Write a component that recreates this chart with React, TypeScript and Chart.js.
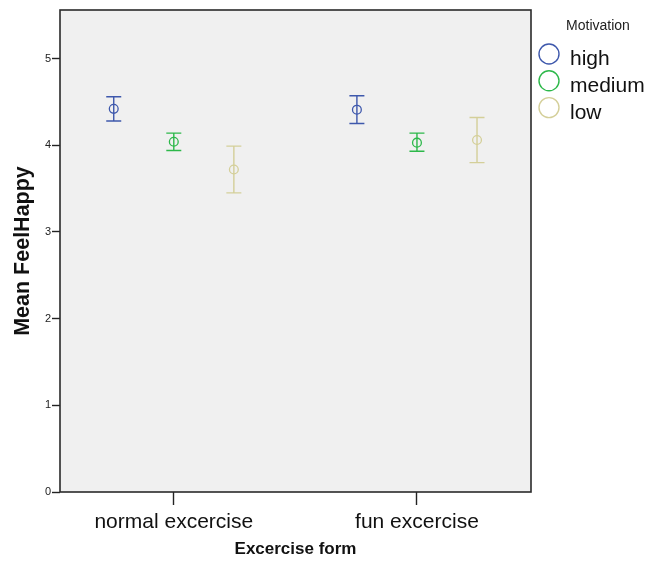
import React, { useEffect, useRef } from 'react';
import { Chart, registerables } from 'chart.js';

Chart.register(...registerables);

// ---- data ----
const categories = ['normal excercise', 'fun excercise'];
const seriesNames = ['high', 'medium', 'low'];

const highMean = [4.42, 4.41];
const highLower = [4.28, 4.25];
const highUpper = [4.56, 4.57];

const mediumMean = [4.04, 4.03];
const mediumLower = [3.94, 3.93];
const mediumUpper = [4.14, 4.14];

const lowMean = [3.72, 4.06];
const lowLower = [3.45, 3.8];
const lowUpper = [3.99, 4.32];

const yTickValues = [0, 1, 2, 3, 4, 5];
const yAxisTitle = 'Mean FeelHappy';
const xAxisTitle = 'Excercise form';
const legendTitle = 'Motivation';

// ---- styles ----
const FONT = '"Liberation Sans", Arial, Helvetica, sans-serif';
const colors = ['#3E58AC', '#2DB84A', '#D4CF99'];
const offsets = [-0.247, 0, 0.247];

const means = [highMean, mediumMean, lowMean];
const lowers = [highLower, mediumLower, lowLower];
const uppers = [highUpper, mediumUpper, lowUpper];

const spssPlugin = {
  id: 'spss',
  beforeDraw(chart: any) {
    const { ctx, chartArea: a } = chart;
    ctx.save();
    ctx.fillStyle = '#F0F0F0';
    ctx.fillRect(a.left, a.top, a.right - a.left, a.bottom - a.top);
    ctx.restore();
  },
  afterDatasetsDraw(chart: any) {
    const { ctx } = chart;
    const xs = chart.scales.x;
    const ys = chart.scales.y;
    ctx.save();
    chart.data.datasets.forEach((ds: any) => {
      ctx.strokeStyle = ds.borderColor;
      ctx.lineWidth = 1.4;
      ds.data.forEach((p: any) => {
        const px = xs.getPixelForValue(p.x);
        const pLo = ys.getPixelForValue(p.lo);
        const pHi = ys.getPixelForValue(p.hi);
        ctx.beginPath();
        ctx.moveTo(px, pHi);
        ctx.lineTo(px, pLo);
        ctx.moveTo(px - 7.5, pHi);
        ctx.lineTo(px + 7.5, pHi);
        ctx.moveTo(px - 7.5, pLo);
        ctx.lineTo(px + 7.5, pLo);
        ctx.stroke();
      });
    });
    ctx.restore();
  },
  afterDraw(chart: any) {
    const { ctx, chartArea: a } = chart;
    ctx.save();
    ctx.strokeStyle = '#2a2a2a';
    ctx.lineWidth = 1.6;
    ctx.strokeRect(a.left, a.top, a.right - a.left, a.bottom - a.top);

    // legend
    const lx = a.right + 18;
    ctx.fillStyle = '#222';
    ctx.font = `14px ${FONT}`;
    ctx.textAlign = 'center';
    ctx.textBaseline = 'middle';
    ctx.fillText(legendTitle, lx + 49, 26);
    chart.data.datasets.forEach((ds: any, i: number) => {
      const cy = 54 + i * 26.8;
      ctx.beginPath();
      ctx.strokeStyle = ds.borderColor;
      ctx.lineWidth = 1.4;
      ctx.arc(lx, cy, 10, 0, Math.PI * 2);
      ctx.stroke();
      ctx.fillStyle = '#111';
      ctx.font = `21px ${FONT}`;
      ctx.textAlign = 'left';
      ctx.textBaseline = 'alphabetic';
      ctx.fillText(ds.label, lx + 21, cy + 11);
    });
    ctx.restore();
  },
};

export default function App() {
  const ref = useRef<HTMLCanvasElement>(null);

  useEffect(() => {
    if (!ref.current) return;
    const datasets = seriesNames.map((name, s) => ({
      label: name,
      data: categories.map((_, i) => ({
        x: i + offsets[s],
        y: means[s][i],
        lo: lowers[s][i],
        hi: uppers[s][i],
      })),
      borderColor: colors[s],
      backgroundColor: 'rgba(240,240,240,1)',
      pointStyle: 'circle',
      pointRadius: 4.4,
      pointBorderWidth: 1.3,
      showLine: false,
    }));

    const chart = new Chart(ref.current, {
      type: 'scatter',
      data: { datasets } as any,
      plugins: [spssPlugin],
      options: {
        responsive: false,
        animation: false,
        devicePixelRatio: 1,
        layout: { padding: { top: 10, right: 125, left: 0, bottom: 0 } },
        plugins: { legend: { display: false }, tooltip: { enabled: false } },
        scales: {
          x: {
            type: 'linear',
            min: -0.468,
            max: 1.469,
            afterBuildTicks: (scale: any) => {
              scale.ticks = categories.map((_, i) => ({ value: i }));
            },
            afterFit: (scale: any) => {
              scale.height = 69;
            },
            border: { display: false },
            grid: {
              drawOnChartArea: false,
              drawTicks: true,
              tickLength: 13,
              tickColor: '#222',
              tickWidth: 1.4,
            },
            ticks: {
              padding: 4.5,
              color: '#111',
              font: { family: FONT, size: 21 },
              maxRotation: 0,
              autoSkip: false,
              callback: (v: any) => categories[Math.round(Number(v))] ?? '',
            },
            title: {
              display: true,
              text: xAxisTitle,
              color: '#111',
              font: { family: FONT, size: 17, weight: 'bold' },
              padding: { top: 0, bottom: 1 },
            },
          },
          y: {
            type: 'linear',
            min: 0,
            max: 5.56,
            afterBuildTicks: (scale: any) => {
              scale.ticks = yTickValues.map((v) => ({ value: v }));
            },
            afterFit: (scale: any) => {
              scale.width = 60;
            },
            border: { display: false },
            grid: {
              drawOnChartArea: false,
              drawTicks: true,
              tickLength: 8,
              tickColor: '#222',
              tickWidth: 1.4,
            },
            ticks: {
              padding: 1,
              color: '#222',
              font: { family: FONT, size: 11 },
              callback: (v: any) => String(v),
            },
            title: {
              display: true,
              text: yAxisTitle,
              color: '#111',
              font: { family: FONT, size: 21.5, weight: 'bold' },
              padding: { top: 10, bottom: 0 },
            },
          },
        },
      } as any,
    });
    return () => chart.destroy();
  }, []);

  return (
    <div style={{ position: 'absolute', left: 0, top: 0, width: 656, height: 561, background: '#fff' }}>
      <canvas ref={ref} width={656} height={561} style={{ display: 'block' }} />
    </div>
  );
}
